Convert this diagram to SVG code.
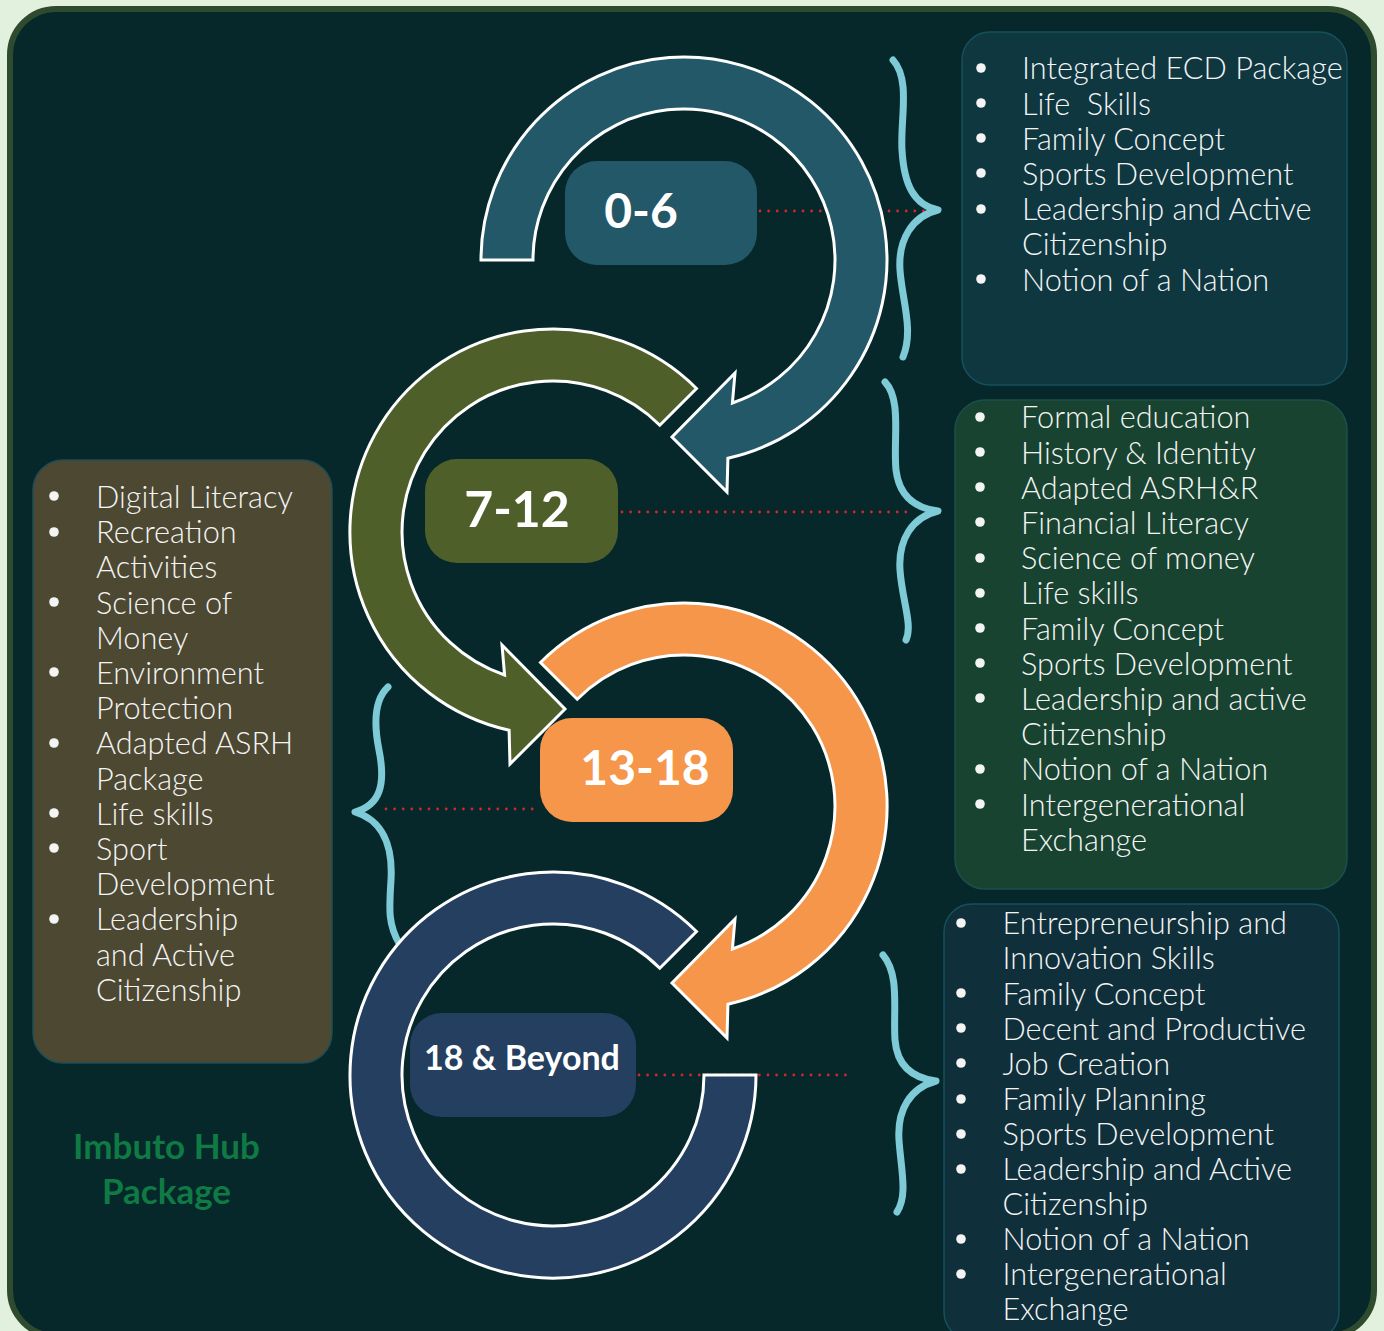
<svg xmlns="http://www.w3.org/2000/svg" width="1384" height="1331" viewBox="0 0 1384 1331">
<style>
.list{font-family:Lato,"Noto Sans","DejaVu Sans",sans-serif;font-size:30.7px;font-weight:300;fill:#f4f4f4}
.lbl{font-family:Lato,"Noto Sans","DejaVu Sans",sans-serif;font-weight:700;fill:#ffffff;text-anchor:middle}
.arc{stroke:#ffffff;stroke-width:3;stroke-linejoin:miter}
.brace{fill:none;stroke:#7ecad6;stroke-width:7;stroke-linecap:round;stroke-linejoin:round}
.dots{fill:none;stroke:#d3262e;stroke-width:2.8;stroke-dasharray:0 8.6;stroke-linecap:round}
.bul{fill:#f4f4f4}
.title{font-family:Lato,"Noto Sans","DejaVu Sans",sans-serif;font-weight:700;font-size:35px;fill:#0f7a44;text-anchor:middle}
</style>
<rect x="0" y="0" width="1384" height="1331" fill="#e2f1dd"/>
<rect x="10" y="9" width="1364" height="1327" rx="46" fill="#06282a" stroke="#2e4a2f" stroke-width="6"/>

<!-- list boxes -->
<g id="list-0-6">
<rect x="962" y="32" width="385" height="353" rx="28" fill="#0e3740" stroke="#15505c" stroke-width="1.5"/>
<g class="bul"><circle cx="981" cy="68" r="4.8"/><circle cx="981" cy="103" r="4.8"/><circle cx="981" cy="138" r="4.8"/><circle cx="981" cy="173" r="4.8"/><circle cx="981" cy="209" r="4.8"/><circle cx="981" cy="279" r="4.8"/></g>
<text class="list" x="1022" y="79.3">Integrated ECD Package</text>
<text class="list" x="1022" y="114.5" xml:space="preserve">Life  Skills</text>
<text class="list" x="1022" y="149.7">Family Concept</text>
<text class="list" x="1022" y="184.9">Sports Development</text>
<text class="list" x="1022" y="220.1">Leadership and Active</text>
<text class="list" x="1022" y="255.3">Citizenship</text>
<text class="list" x="1022" y="290.5">Notion of a Nation</text>
</g>

<g id="list-7-12">
<rect x="955" y="400" width="392" height="489" rx="30" fill="#184330" stroke="#1d4f4a" stroke-width="1.5"/>
<g class="bul"><circle cx="980" cy="417" r="4.8"/><circle cx="980" cy="452" r="4.8"/><circle cx="980" cy="487" r="4.8"/><circle cx="980" cy="522" r="4.8"/><circle cx="980" cy="558" r="4.8"/><circle cx="980" cy="593" r="4.8"/><circle cx="980" cy="628" r="4.8"/><circle cx="980" cy="663" r="4.8"/><circle cx="980" cy="698" r="4.8"/><circle cx="980" cy="769" r="4.8"/><circle cx="980" cy="804" r="4.8"/></g>
<text class="list" x="1021" y="428.3">Formal education</text>
<text class="list" x="1021" y="463.5">History &amp; Identity</text>
<text class="list" x="1021" y="498.7">Adapted ASRH&amp;R</text>
<text class="list" x="1021" y="533.9">Financial Literacy</text>
<text class="list" x="1021" y="569.1">Science of money</text>
<text class="list" x="1021" y="604.3">Life skills</text>
<text class="list" x="1021" y="639.5">Family Concept</text>
<text class="list" x="1021" y="674.7">Sports Development</text>
<text class="list" x="1021" y="709.9">Leadership and active</text>
<text class="list" x="1021" y="745.1">Citizenship</text>
<text class="list" x="1021" y="780.3">Notion of a Nation</text>
<text class="list" x="1021" y="815.5">Intergenerational</text>
<text class="list" x="1021" y="850.7">Exchange</text>
</g>

<g id="list-18-beyond">
<rect x="944" y="904" width="395" height="436" rx="28" fill="#0f2f3a" stroke="#15505c" stroke-width="1.5"/>
<g class="bul"><circle cx="961" cy="923" r="4.8"/><circle cx="961" cy="993" r="4.8"/><circle cx="961" cy="1028" r="4.8"/><circle cx="961" cy="1063" r="4.8"/><circle cx="961" cy="1099" r="4.8"/><circle cx="961" cy="1134" r="4.8"/><circle cx="961" cy="1169" r="4.8"/><circle cx="961" cy="1239" r="4.8"/><circle cx="961" cy="1274" r="4.8"/></g>
<text class="list" x="1002.5" y="934.3">Entrepreneurship and</text>
<text class="list" x="1002.5" y="969.4">Innovation Skills</text>
<text class="list" x="1002.5" y="1004.5">Family Concept</text>
<text class="list" x="1002.5" y="1039.6">Decent and Productive</text>
<text class="list" x="1002.5" y="1074.7">Job Creation</text>
<text class="list" x="1002.5" y="1109.8">Family Planning</text>
<text class="list" x="1002.5" y="1144.9">Sports Development</text>
<text class="list" x="1002.5" y="1180">Leadership and Active</text>
<text class="list" x="1002.5" y="1215.1">Citizenship</text>
<text class="list" x="1002.5" y="1250.2">Notion of a Nation</text>
<text class="list" x="1002.5" y="1285.3">Intergenerational</text>
<text class="list" x="1002.5" y="1320.4">Exchange</text>
</g>

<g id="list-13-18">
<rect x="33" y="460" width="299" height="603" rx="30" fill="#4c4832" stroke="#1e4d55" stroke-width="1.5"/>
<g class="bul"><circle cx="54" cy="496" r="4.8"/><circle cx="54" cy="532" r="4.8"/><circle cx="54" cy="602" r="4.8"/><circle cx="54" cy="672" r="4.8"/><circle cx="54" cy="743" r="4.8"/><circle cx="54" cy="813" r="4.8"/><circle cx="54" cy="848" r="4.8"/><circle cx="54" cy="919" r="4.8"/></g>
<text class="list" x="96" y="508">Digital Literacy</text>
<text class="list" x="96" y="543.2">Recreation</text>
<text class="list" x="96" y="578.4">Activities</text>
<text class="list" x="96" y="613.6">Science of</text>
<text class="list" x="96" y="648.8">Money</text>
<text class="list" x="96" y="684">Environment</text>
<text class="list" x="96" y="719.2">Protection</text>
<text class="list" x="96" y="754.4">Adapted ASRH</text>
<text class="list" x="96" y="789.6">Package</text>
<text class="list" x="96" y="824.8">Life skills</text>
<text class="list" x="96" y="860">Sport</text>
<text class="list" x="96" y="895.2">Development</text>
<text class="list" x="96" y="930.4">Leadership</text>
<text class="list" x="96" y="965.6">and Active</text>
<text class="list" x="96" y="1000.8">Citizenship</text>
</g>

<g id="title">
<text class="title" x="166.5" y="1159">Imbuto Hub</text>
<text class="title" x="166.5" y="1204">Package</text>
</g>

<!-- connectors: dotted leaders and braces -->
<g id="connectors">
<path class="dots" d="M760 211 H936"/>
<path class="dots" d="M622 512 H914"/>
<path class="dots" d="M386 809 H538"/>
<path class="dots" d="M639 1075 H850"/>
<path class="brace" d="M893 60 C911 80 900 120 902 150 C904 185 914 205 938 210 C912 216 898 240 900 270 C902 300 914 330 903 357"/>
<path class="brace" d="M885 382 C902 400 893 440 896 470 C899 495 914 508 938 511 C912 517 898 540 900 570 C902 600 913 625 906 640"/>
<path class="brace" d="M388 687 C374 700 374 725 379 750 C386 785 380 805 355 812 C382 820 393 845 391 880 C389 910 388 925 400 945"/>
<path class="brace" d="M883 955 C900 975 893 1010 895 1040 C897 1065 912 1078 936 1081 C910 1088 897 1110 899 1140 C901 1170 908 1195 897 1212"/>
</g>

<!-- stage label boxes -->
<g id="stage-0-6">
<rect x="565" y="161" width="192" height="104" rx="32" fill="#225868"/>
<text class="lbl" x="641" y="228" font-size="48">0-6</text>
</g>
<g id="stage-7-12">
<rect x="425" y="459" width="193" height="104" rx="32" fill="#4f5f2a"/>
<text class="lbl" x="517" y="527" font-size="50">7-12</text>
</g>
<g id="stage-13-18">
<rect x="540" y="718" width="193" height="104" rx="32" fill="#f5964a"/>
<text class="lbl" x="645" y="785" font-size="48">13-18</text>
</g>
<g id="stage-18-beyond">
<rect x="410" y="1013" width="226" height="104" rx="32" fill="#243f5f"/>
<text class="lbl" x="522" y="1070" font-size="34">18 &amp; Beyond</text>
</g>

<!-- circular arrows -->
<g id="arrow-0-6">
<path class="arc" fill="#225868" d="M481 260 A203 203 0 1 1 727.9 458.2 L727 492 L672 437 L735 373 L732.4 403 A151 151 0 1 0 533 260 Z"/>
</g>
<g id="arrow-7-12">
<path class="arc" fill="#4f5f2a" d="M696.5 388.5 A203 203 0 1 0 509.1 730.2 L510 764 L565 709 L502 645 L504.6 675 A151 151 0 1 1 659.8 425.2 Z"/>
</g>
<g id="arrow-13-18">
<path class="arc" fill="#f5964a" d="M540.5 662.5 A203 203 0 1 1 727.9 1004.2 L727 1038 L672 983 L735 919 L732.4 949 A151 151 0 1 0 577.2 699.2 Z"/>
</g>
<g id="arrow-18-beyond">
<path class="arc" fill="#243f5f" d="M696.5 931.5 A203 203 0 1 0 756 1075 L704 1075 A151 151 0 1 1 659.8 968.2 Z"/>
</g>
</svg>
